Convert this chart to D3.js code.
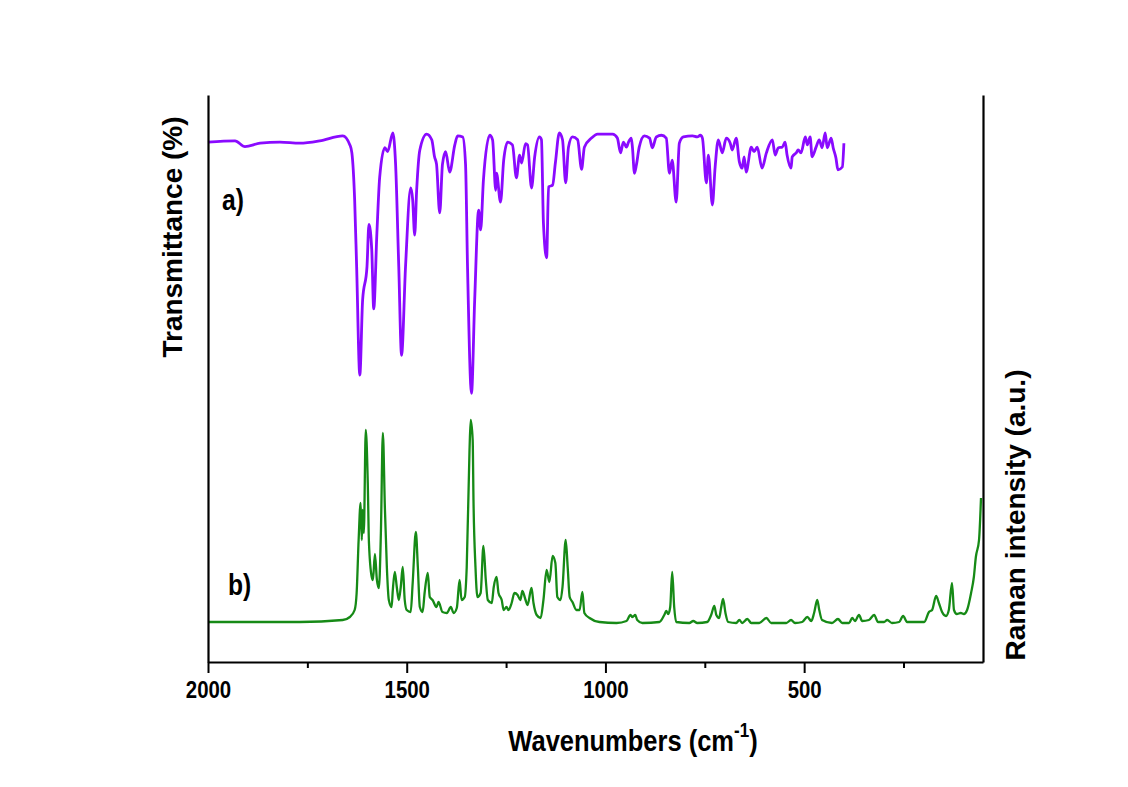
<!DOCTYPE html>
<html>
<head>
<meta charset="utf-8">
<script src="https://cdn.jsdelivr.net/npm/d3@7"></script>
<style>
  html, body { margin: 0; padding: 0; background: #ffffff; }
  svg { display: block; }
  text { font-family: "Liberation Sans", Arial, sans-serif; font-weight: bold; fill: #000; }
</style>
</head>
<body>
<svg id="chart" width="1128" height="787"></svg>
<script>
// ---- Data ----
// FT-IR spectrum (a): wavenumber (cm-1) and transmittance (%)
const irWavenumbers = [2000,1932,1907,1869,1819,1769,1719,1661,1643,1638,1631,1626,1618,1611,1600,1595,1588,1583,1575,1568,1555,1548,1535,1528,1520,1513,1503,1490,1485,1480,1475,1467,1450,1437,1430,1425,1417,1410,1402,1392,1379,1372,1359,1352,1347,1337,1329,1319,1314,1307,1291,1284,1276,1274,1264,1256,1246,1234,1224,1216,1211,1201,1196,1186,1178,1166,1161,1156,1148,1143,1133,1126,1116,1108,1100,1093,1083,1070,1060,1053,1035,1020,997,982,970,962,955,947,942,935,932,927,922,915,902,889,882,872,859,847,839,832,822,814,804,781,769,761,756,746,741,731,724,716,706,696,686,681,671,663,656,651,646,633,626,618,606,595,580,573,565,555,548,543,533,530,520,515,508,497,492,485,480,470,462,455,447,442,432,427,420,415,404,400];
const irTransmittance = [91.7,91.9,90.9,91.5,91.7,91.5,91.9,92.8,91.2,89.8,81.5,69.7,50.6,63.8,69.7,77.2,72.7,62.3,75.7,85.5,90.7,90.0,93.3,87.8,69.7,54.1,69.7,83.6,81.5,75.3,83.2,90.3,93.1,92.1,89.1,87.8,79.2,87.8,90.0,86.4,91.2,92.8,92.6,87.8,69.7,47.4,63.8,79.7,76.2,85.0,92.9,92.1,83.2,86.2,81.1,88.5,91.7,91.2,85.4,89.4,88.0,91.4,91.2,83.6,89.1,92.6,92.1,77.4,71.3,83.8,84.1,88.0,93.3,92.1,84.5,90.8,92.6,92.1,86.9,90.8,92.4,93.1,93.1,93.1,92.4,89.8,91.7,90.8,91.7,92.4,90.7,86.2,87.7,90.8,92.8,92.4,90.7,92.6,92.9,92.4,86.2,88.5,81.1,91.5,92.6,92.8,92.6,92.9,92.4,84.5,89.4,80.6,87.3,92.1,89.8,92.4,91.5,90.3,92.4,88.2,87.1,89.1,86.4,90.8,90.0,90.8,87.1,89.8,92.1,89.4,90.7,90.8,91.7,89.4,87.1,89.1,89.8,90.3,89.8,92.6,91.2,92.6,89.1,90.8,92.1,90.7,93.3,90.7,92.4,90.7,88.9,86.8,87.3,91.5];

// Raman spectrum (b): wavenumber (cm-1) and intensity (a.u.)
const ramanWavenumbers = [2000,1894,1769,1661,1643,1631,1626,1621,1616,1613,1611,1608,1603,1598,1595,1588,1585,1580,1575,1570,1565,1560,1555,1550,1545,1538,1535,1530,1525,1520,1515,1510,1505,1500,1490,1485,1477,1472,1467,1460,1455,1447,1442,1435,1425,1420,1410,1399,1389,1382,1374,1367,1362,1354,1349,1342,1339,1334,1332,1327,1322,1314,1307,1301,1296,1286,1281,1274,1269,1261,1256,1249,1244,1236,1229,1221,1214,1209,1201,1196,1186,1181,1173,1163,1156,1148,1141,1133,1126,1121,1113,1108,1100,1095,1090,1083,1073,1065,1058,1053,1040,1015,972,947,937,932,925,920,907,864,852,847,842,837,832,827,822,789,779,769,744,734,726,721,714,709,704,698,691,671,663,656,643,633,613,595,583,545,533,523,505,492,482,475,467,462,455,430,415,404,387,379,372,362,354,337,324,314,299,291,279,261,251,241,198,186,178,168,161,153,143,136,128,123,116,106,98,90,80,73,68,60,55];
const ramanIntensity = [1,1,1,3,6,13,30,83,120,83,113,90,193,140,80,46,43,69,43,35,90,190,116,56,23,16,33,51,36,23,36,56,23,13,11,40,91,56,16,11,30,50,26,23,16,21,11,10,16,10,15,43,23,26,56,173,203,183,123,56,26,30,77,43,23,20,36,46,30,23,13,16,13,20,30,28,23,32,23,18,35,20,8,5,23,53,41,67,60,26,23,36,83,56,26,21,13,13,31,10,5,1,0,2,8,6,8,3,0,1,8,12,9,16,51,16,1,0,2,0,1,8,17,8,5,15,24,10,1,0,3,0,4,0,0,5,0,0,3,0,1,6,2,10,23,13,3,0,4,0,0,5,2,8,2,3,8,1,1,3,0,1,7,1,1,11,13,27,20,11,7,13,40,13,9,10,9,13,30,46,66,83,125];

// Axis ticks
const majorTicks = [2000, 1500, 1000, 500];
const minorTicks = [1750, 1250, 750, 250];
const xDomain = [2000, 50];

// Labels
const xLabel = "Wavenumbers (cm";
const xLabelSup = "-1";
const yLeftLabel = "Transmittance (%)";
const yRightLabel = "Raman intensity (a.u.)";
const seriesTags = ["a)", "b)"];

// ---- Layout ----
const W = 1128, H = 787;
const plotLeft = 208, plotRight = 983, plotTop = 95, plotBottom = 662;
const narrow = 0.85; // the reference's horizontal text appears condensed

const svg = d3.select("#chart");
svg.append("rect").attr("width", W).attr("height", H).attr("fill", "#fff");

const x = d3.scaleLinear().domain(xDomain).range([plotLeft, plotRight]);
const yIR = d3.scaleLinear().domain([0, 100]).range([plotBottom, plotTop]);
const yRaman = d3.scaleLinear().domain([-39, 528]).range([plotBottom, plotTop]);

const irData = irWavenumbers.map((w, i) => ({ w, v: irTransmittance[i] }));
const ramanData = ramanWavenumbers.map((w, i) => ({ w, v: ramanIntensity[i] }));

const lineIR = d3.line().x(d => x(d.w)).y(d => yIR(d.v)).curve(d3.curveMonotoneX);
const lineRaman = d3.line().x(d => x(d.w)).y(d => yRaman(d.v)).curve(d3.curveMonotoneX);

svg.append("path").datum(ramanData)
  .attr("d", lineRaman)
  .attr("fill", "none").attr("stroke", "#168a16").attr("stroke-width", 2.3)
  .attr("stroke-linejoin", "round");

svg.append("path").datum(irData)
  .attr("d", lineIR)
  .attr("fill", "none").attr("stroke", "#8a0aff").attr("stroke-width", 2.8)
  .attr("stroke-linejoin", "round");

// Bottom axis
const xAxis = d3.axisBottom(x).tickValues(majorTicks).tickSize(11).tickSizeOuter(0).tickPadding(8)
  .tickFormat(d3.format("d"));
const gx = svg.append("g").attr("transform", `translate(0,${plotBottom})`).call(xAxis);
gx.select(".domain").attr("stroke", "#000").attr("stroke-width", 2.2);
gx.selectAll(".tick line").attr("stroke", "#000").attr("stroke-width", 2);
gx.selectAll(".tick text").attr("font-size", 24)
  .attr("font-family", "'Liberation Sans', Arial, sans-serif").attr("font-weight", "bold")
  .attr("transform", `scale(${narrow},1)`);

const xMinor = d3.axisBottom(x).tickValues(minorTicks).tickSize(6).tickSizeOuter(0).tickFormat("");
const gxm = svg.append("g").attr("transform", `translate(0,${plotBottom})`).call(xMinor);
gxm.select(".domain").remove();
gxm.selectAll(".tick line").attr("stroke", "#000").attr("stroke-width", 2);

// Left and right axis lines (no ticks)
const gl = svg.append("g").attr("transform", `translate(${plotLeft},0)`)
  .call(d3.axisLeft(yIR).tickValues([]).tickSizeOuter(0));
gl.select(".domain").attr("stroke", "#000").attr("stroke-width", 2.2);
const gr = svg.append("g").attr("transform", `translate(${plotRight},0)`)
  .call(d3.axisRight(yRaman).tickValues([]).tickSizeOuter(0));
gr.select(".domain").attr("stroke", "#000").attr("stroke-width", 2.2);

// X label
const xl = svg.append("text").attr("transform", `translate(633,751) scale(${narrow},1)`)
  .attr("text-anchor", "middle").attr("font-size", 30);
xl.append("tspan").text(xLabel);
xl.append("tspan").attr("font-size", 20).attr("dy", -14).text(xLabelSup);
xl.append("tspan").attr("dy", 14).text(")");

// Y labels
svg.append("text").attr("transform", "translate(182,237) rotate(-90)")
  .attr("text-anchor", "middle").attr("font-size", 28).text(yLeftLabel);
svg.append("text").attr("transform", "translate(1025,515) rotate(-90)")
  .attr("text-anchor", "middle").attr("font-size", 28).text(yRightLabel);

// Series tags
svg.append("text").attr("transform", `translate(222,210) scale(${narrow},1)`).attr("font-size", 29).text(seriesTags[0]);
svg.append("text").attr("transform", `translate(228,595) scale(${narrow},1)`).attr("font-size", 29).text(seriesTags[1]);
</script>
</body>
</html>
